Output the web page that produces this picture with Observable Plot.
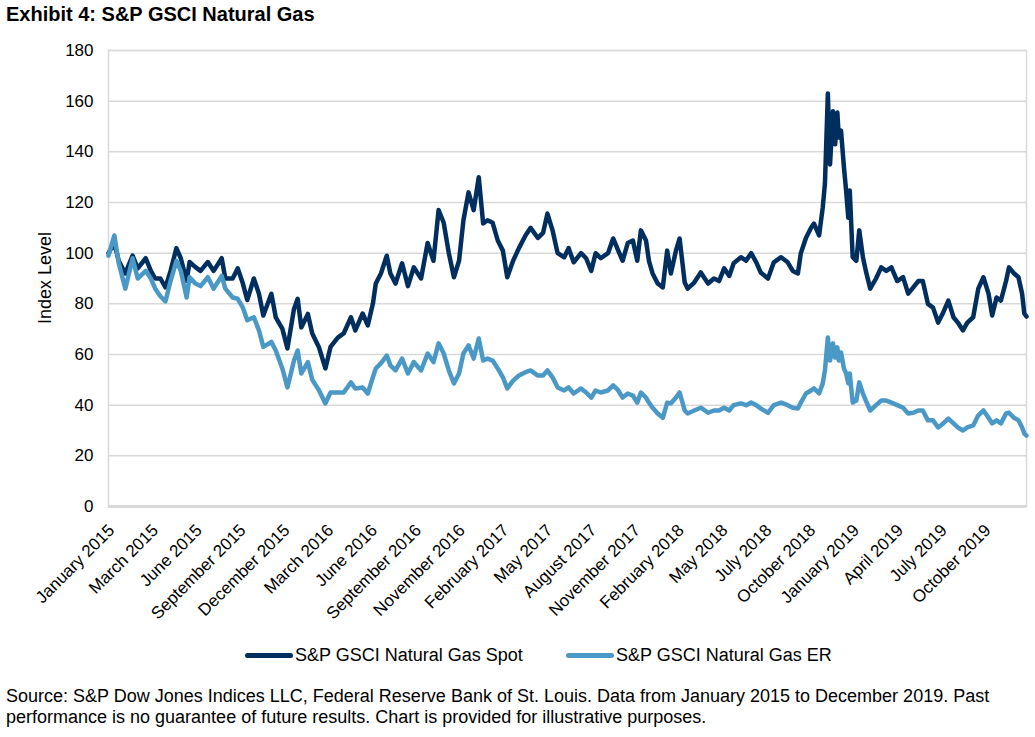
<!DOCTYPE html>
<html><head><meta charset="utf-8">
<script src="https://cdn.jsdelivr.net/npm/d3@7"></script>
<script src="https://cdn.jsdelivr.net/npm/@observablehq/plot@0.6"></script>
<style>
body{margin:0;background:#fff;font-family:"Liberation Sans",Arial,sans-serif;width:1035px;height:737px;position:relative;overflow:hidden;color:#000}
#title{position:absolute;left:6px;top:3px;font-weight:bold;font-size:20px}
#chart{position:absolute;left:0;top:32px}
#ylabel{position:absolute;left:45px;top:278px;font-size:18px;transform:translate(-50%,-50%) rotate(-90deg);white-space:nowrap}
.leg{position:absolute;top:645px;font-size:18px;display:flex;align-items:center;white-space:nowrap}
.sw{display:inline-block;width:48px;height:4.5px;border-radius:3px;margin-right:2px}
#caption{position:absolute;left:6px;top:686px;font-size:18px;line-height:21px;white-space:nowrap}
</style></head>
<body>
<div id="title">Exhibit 4: S&amp;P GSCI Natural Gas</div>
<div id="chart"></div>
<div id="ylabel">Index Level</div>
<div class="leg" style="left:245px"><span class="sw" style="background:#002f5f"></span>S&amp;P GSCI Natural Gas Spot</div>
<div class="leg" style="left:566px"><span class="sw" style="background:#4a98c6"></span>S&amp;P GSCI Natural Gas ER</div>
<div id="caption">Source: S&amp;P Dow Jones Indices LLC, Federal Reserve Bank of St. Louis. Data from January 2015 to December 2019. Past<br>performance is no guarantee of future results. Chart is provided for illustrative purposes.</div>
<script>
// trading-day index (0 = first trading day of January 2015)
const day = [0,8,14,23,33,40,51,58,64,71,78,85,93,99,107,111,119,126,136,144,155,160,170,177,184,190,199,206,212,223,229,238,245,254,259,264,273,279,288,297,
304,314,322,332,338,348,355,362,366,373,381,386,393,402,410,418,428,437,445,452,459,466,473,480,486,493,500,507,513,519,526,533,540,546,554,562,571,578,588,595,
601,608,615,624,630,637,647,654,661,667,674,684,691,698,704,711,718,724,729,736,740,745,752,759,765,770,777,782,789,793,802,811,821,829,836,843,850,856,866,873,
880,887,893,903,911,921,930,937,944,948,955,962,966,973,978,981,985,988,992,995,998,1000,1003,1007,1010,1013,1015,1019,1024,1028,1033,1037,1043,1051,1058,1065,1072,1080,1088,1095,
1102,1109,1115,1122,1129,1136,1143,1150,1157,1163,1170,1176,1184,1191,1198,1205,1210,1216,1222,1229,1233,1240,1246,1251,1254,1257];
const spot = [100,104,97,92,99,94,98,93,90,90,86.5,93,102,98,89,96.5,94.5,93,96.5,93,98,90,90,94,88,81.5,90,84,75.4,84,74.7,70.2,62.4,78,82,70.7,76,68.3,63,54.5,
63,66.7,68.3,74.7,69.5,76.2,71.5,80,88,92,99,92,88,96,87,94.4,90,104,97,117,112,100,90.5,97,113,124,117,130,111.7,113,112,105,101,90.5,97,102,107,110,106,108,
115.6,109,100,98.4,102,96.4,100,98,93,100,98,100,105.8,101,97,104,105,97,109,105,97,92,88,86.5,101,92,101,105.8,88.4,86,88.4,92.4,88,90,89,94,91,96,98.4,97,
100,96.4,92.4,90,96.4,98.4,96.4,93,92,100,106,110,111.7,107,118,127.5,163,135,156,143,155.5,145.7,148.4,134,124.7,114,124.7,98.4,97,109,98.4,93,86,90,94.4,93,94.4,89,90.5,84,
86.5,89,89,80,78.5,72.6,76.6,81.3,74.7,72.6,69.5,72.6,74.7,86,90.5,84,75.4,82.5,81.3,89,94.4,92,90.5,84,76.2,75];
const er = [99,107,96,86,98,90,93,90,86,83,81,89,97,93,82.5,90.5,88,87,90.5,86,91,86,82.5,82,78.5,73.5,74.7,69.5,63,65,61.6,54.5,47,57.6,61.6,52.5,57,50,46,40.7,
45,45,45,49,46.6,47,44.6,51,54.5,56.5,59.6,55.7,53.7,58.4,52.5,57,53.7,60.4,57,64.4,60.4,53.7,48.6,52.5,60.4,63.6,58.4,66.3,57.6,58.4,57.6,54.5,51,46.6,49.7,51.7,53,53.7,51.7,51.7,
53.7,51,47,45.8,47,44.6,46.6,45,43,45.8,45,45.8,47.8,45.8,43,44.6,43.8,41,45,43,41,39,36.7,35,41,40.7,43,45,37.9,36.7,37.9,39,37,37.9,37.9,39,37.9,40,40.7,40,
41,40,38.7,37,40,41,40,39,38.7,41,44.6,45.8,46.6,44.6,48.6,53.7,66.7,57.6,64.4,58.8,62.8,57.6,60.8,54.5,52.5,48.6,52.5,41,41.8,49,44.6,41.8,37.9,40,41.8,41.8,41,40,39,36.7,
37,37.9,37.9,34,34,31.2,32.8,34.7,32.8,31.2,30,31.2,32,36,37.9,35,32.8,34,32.8,36.7,37,35,34,31.2,28.8,28];
const xTickDays = [0,60,120,180,240,300,360,420,480,540,600,660,720,780,840,900,960,1020,1080,1140,1200];
const xLabels = ["January 2015","March 2015","June 2015","September 2015","December 2015","March 2016","June 2016","September 2016","November 2016","February 2017","May 2017","August 2017","November 2017","February 2018","May 2018","July 2018","October 2018","January 2019","April 2019","July 2019","October 2019"];
const yTicks = [0,20,40,60,80,100,120,140,160,180];

const data = day.map((d, i) => ({day: d, spot: spot[i], er: er[i]}));

const chart = Plot.plot({
  width: 1035, height: 600,
  marginTop: 18, marginBottom: 126, marginLeft: 108, marginRight: 9,
  style: {fontSize: "17px", fontFamily: "'Liberation Sans', Arial, sans-serif", color: "#000", background: "#fff"},
  x: {domain: [0, 1257]},
  y: {domain: [0, 180]},
  marks: [
    Plot.gridY(yTicks.filter(d => d > 0), {stroke: "#d9d9d9", strokeOpacity: 1, strokeWidth: 1.5}),
    Plot.frame({stroke: "#d9d9d9", strokeWidth: 1.5}),
    Plot.ruleY([0], {stroke: "#d9d9d9", strokeWidth: 3}),
    Plot.axisY({ticks: yTicks, tickSize: 0, tickPadding: 15, label: null}),
    Plot.axisX({ticks: xTickDays, tickFormat: d => xLabels[xTickDays.indexOf(d)], tickRotate: -45, tickSize: 0, tickPadding: 13, dx: 3, dy: 8, label: null}),
    Plot.line(data, {x: "day", y: "spot", stroke: "#002f5f", strokeWidth: 4.5, strokeLinejoin: "round"}),
    Plot.line(data, {x: "day", y: "er", stroke: "#4a98c6", strokeWidth: 4.5, strokeLinejoin: "round"})
  ]
});
document.getElementById("chart").appendChild(chart);
</script>
</body></html>
